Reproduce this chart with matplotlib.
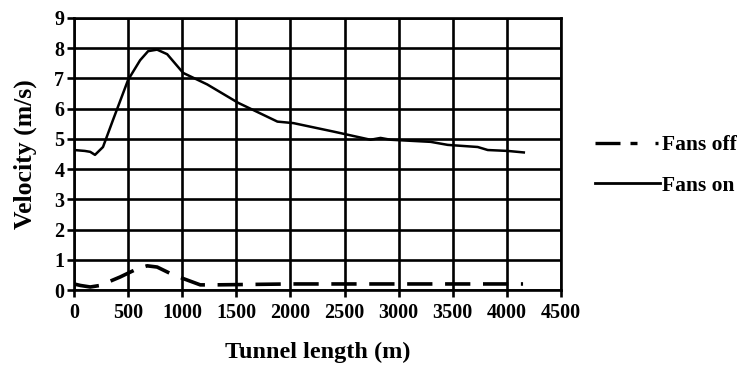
import matplotlib
matplotlib.use("Agg")
import matplotlib.pyplot as plt
from matplotlib.lines import Line2D

# tunnel velocity profiles, fans on / fans off
fans_on_x = [0, 100, 150, 194, 268, 361, 500, 611, 685, 768, 861, 1009, 1231, 1518,
             1880, 2028, 2398, 2740, 2833, 2926, 3296, 3454, 3731, 3824, 4009, 4157]
fans_on_v = [4.63, 4.6, 4.57, 4.47, 4.73, 5.63, 6.95, 7.6, 7.9, 7.95, 7.8, 7.18, 6.8, 6.19,
             5.57, 5.52, 5.24, 4.97, 5.03, 4.97, 4.9, 4.8, 4.73, 4.63, 4.6, 4.55]

fans_off_x = [0, 60, 150, 240, 426, 583, 676, 768, 917, 1046, 1167, 1300, 2000, 3000, 4150]
fans_off_v = [0.2, 0.15, 0.1, 0.15, 0.43, 0.7, 0.8, 0.76, 0.5, 0.33, 0.17, 0.17, 0.2, 0.2, 0.2]

x_ticks = [0, 500, 1000, 1500, 2000, 2500, 3000, 3500, 4000, 4500]
y_ticks = [0, 1, 2, 3, 4, 5, 6, 7, 8, 9]

plt.rcParams['font.family'] = ['Liberation Serif', 'DejaVu Serif']
plt.rcParams['font.weight'] = 'bold'

fig = plt.figure(figsize=(7.4, 3.73), dpi=100)
ax = fig.add_axes([0.1, 0.2225, 0.658, 0.7295])

ax.plot(fans_off_x, fans_off_v, color='black', lw=2.6, linestyle=(0, (7, 3.5)))
ax.plot(fans_on_x, fans_on_v, color='black', lw=1.8)

ax.set_xlim(0, 4500)
ax.set_ylim(0, 9)
ax.set_xticks(x_ticks)
ax.set_yticks(y_ticks)
ax.grid(True, color='black', lw=1.9)
for s in ax.spines.values():
    s.set_linewidth(1.9)
ax.tick_params(axis='x', direction='out', length=5, width=1.9, labelsize=14.5, pad=4)
ax.tick_params(axis='y', direction='out', length=5, width=1.9, labelsize=14.5, pad=2)

ax.set_xlabel('Tunnel length (m)', fontsize=17.5, fontweight='bold', labelpad=14)
ax.set_ylabel('Velocity (m/s)', fontsize=18.5, fontweight='bold', labelpad=12)

# legend drawn at the right of the axes
handles = [Line2D([], [], color='black', lw=2.4, linestyle=(0, (7.5, 3, 2.1, 5.4, 0.9, 1))),
           Line2D([], [], color='black', lw=2.0)]
fig.legend(handles, ['Fans off', 'Fans on'], loc='center left',
           bbox_to_anchor=(0.804, 0.556), frameon=False, fontsize=15.5,
           borderpad=0, borderaxespad=0,
           handlelength=3.0, handletextpad=0.1, labelspacing=0.95)

fig.savefig('out.png', dpi=100)
